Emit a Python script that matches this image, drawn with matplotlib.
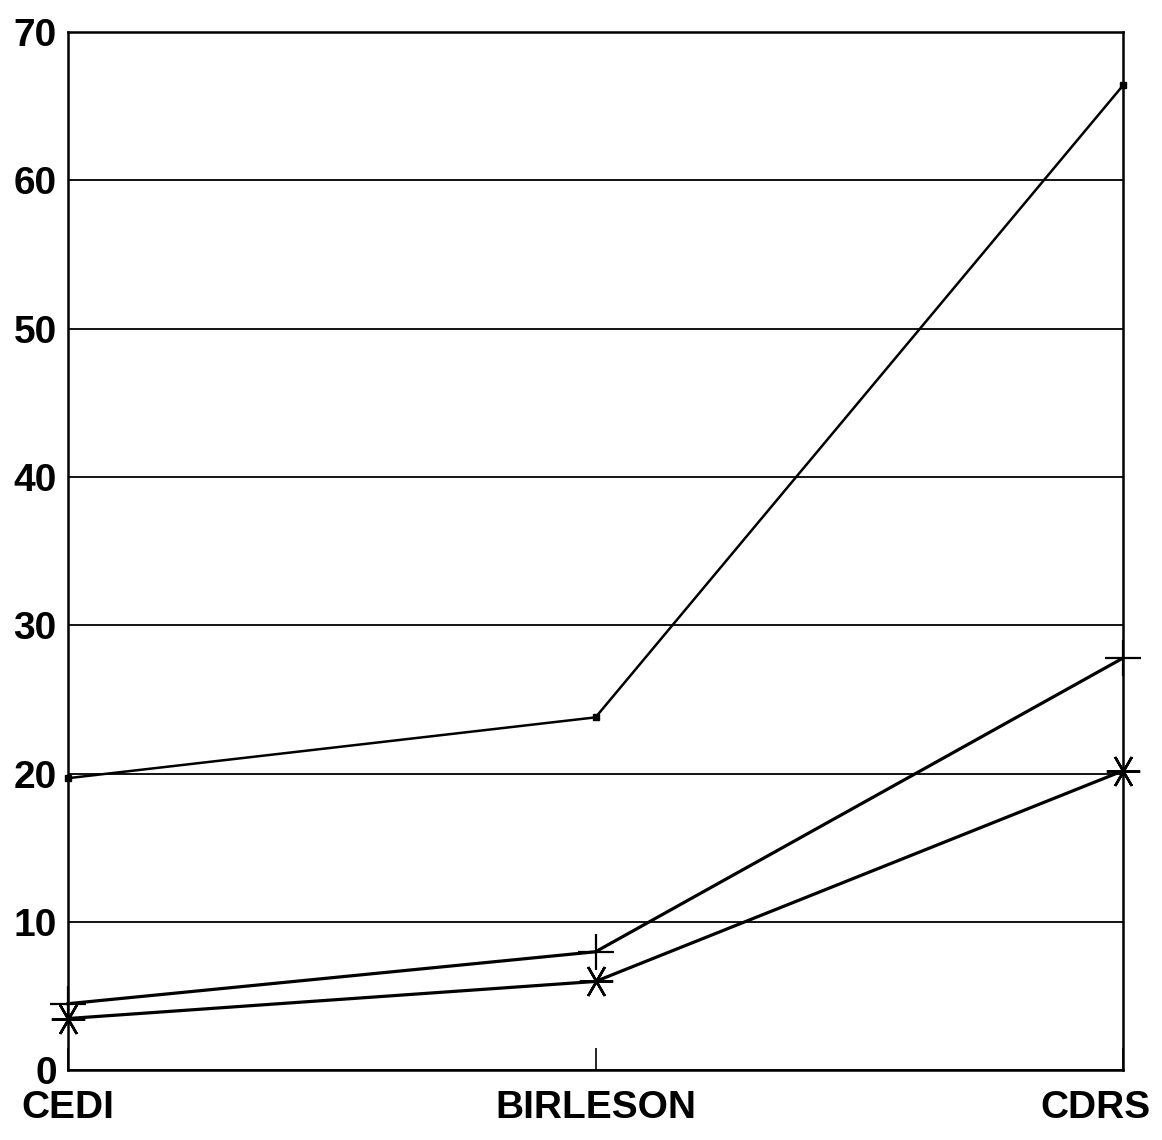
import matplotlib.pyplot as plt
import matplotlib.transforms as mtransforms

# Data
categories = ['CEDI', 'BIRLESON', 'CDRS']
series_dot = [19.7, 23.8, 66.4]
series_plus = [4.5, 8.0, 27.8]
series_star = [3.5, 6.0, 20.2]
yticks = [0, 10, 20, 30, 40, 50, 60, 70]

plt.rcParams['font.family'] = ['Liberation Sans', 'DejaVu Sans']

fig = plt.figure(figsize=(11.62, 11.40), dpi=100)
ax = fig.add_axes([0.0585, 0.061, 0.908, 0.911])

x = list(range(len(categories)))
ax.plot(x, series_dot, color='black', lw=1.8, marker='s', markersize=4, clip_on=False)
ax.plot(x, series_plus, color='black', lw=2.3, marker='+', markersize=26,
        markeredgewidth=1.6, clip_on=False)
ax.plot(x, series_star, color='black', lw=2.3, marker=(6, 2, 90), markersize=24,
        markeredgewidth=1.8, clip_on=False)

ax.set_xlim(0, 2)
ax.set_ylim(0, 70)
ax.set_yticks(yticks)
ax.set_yticklabels([str(v) for v in yticks], fontsize=28, fontweight='bold')
ax.set_xticks(x)
ax.set_xticklabels(categories, fontsize=28, fontweight='bold')

ax.grid(axis='y', color='black', lw=1.3)
ax.set_axisbelow(True)
ax.tick_params(axis='y', length=0, pad=8)
ax.tick_params(axis='x', direction='in', length=16, width=1.2, pad=14)

# the last category label sits inside the figure edge
lbl = ax.get_xticklabels()[-1]
lbl.set_transform(lbl.get_transform() + mtransforms.ScaledTranslation(-0.28, 0, fig.dpi_scale_trans))

for s in ax.spines.values():
    s.set_linewidth(1.8)
    s.set_color('black')

fig.savefig('out.png', dpi=100)
